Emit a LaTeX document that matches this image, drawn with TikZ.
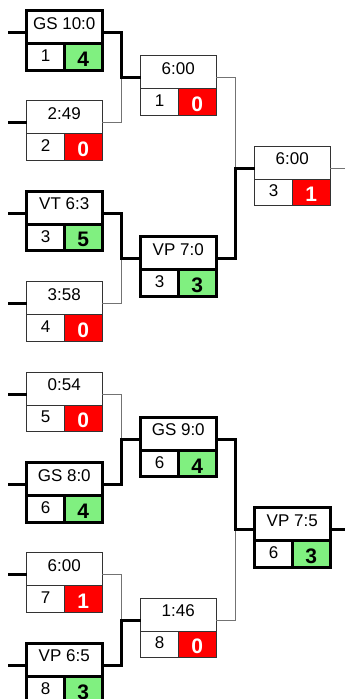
\documentclass[tikz,border=0pt]{standalone}
\usepackage{fontspec}
\setmainfont{Liberation Sans}
\usetikzlibrary{calc}
\definecolor{wgreen}{RGB}{128,240,128}
\definecolor{lred}{RGB}{255,0,0}
\tikzset{
  cell/.style={rectangle, inner sep=0pt, outer sep=0pt, anchor=north west, fill=white},
  wbox/.style={draw=black, line width=3pt},
  lbox/.style={draw=black!80, line width=1pt},
  wsc/.style={fill=wgreen, text=black},
  lsc/.style={fill=lred, text=white},
  lbl/.style={inner sep=0pt, font=\fontsize{17}{17}\selectfont},
  seedtxt/.style={inner sep=0pt, font=\fontsize{17}{17}\selectfont},
  scoretxt/.style={inner sep=0pt, font=\bfseries\fontsize{21}{21}\selectfont},
  wline/.style={draw=black, line width=3pt},
  lline/.style={draw=black!55, line width=1pt},
}
% #1 name, #2 left, #3 top, #4 label, #5 seed, #6 score, #7 w or l
\newcommand\gamebox[7]{%
  \node[cell,#7box,minimum width=75.5pt,minimum height=33pt] (#1t) at (#2,#3) {};
  \node[cell,#7box,minimum width=37.75pt,minimum height=26.5pt] (#1a) at (#1t.south west) {};
  \node[cell,#7box,#7sc,minimum width=37.75pt,minimum height=26.5pt] (#1b) at (#1a.north east) {};
  \node[lbl] (#1l) at ($(#1t.north)+(0,12.7)$) {#4};
  \node[seedtxt] (#1n) at ($(#1t.north west)+(19,45)$) {#5};
  \node[scoretxt,#7sc,fill=none] (#1s) at ($(#1t.north west)+(56.6,48.5)$) {#6};
  \coordinate (#1in) at ($(#1t.north west)+(0,22)$);
  \coordinate (#1out) at ($(#1t.north east)+(0,22)$);
}
\begin{document}
\begin{tikzpicture}[x=1pt,y=-1pt]
\useasboundingbox (0,0) rectangle (345,699);
\clip (0,0) rectangle (345,699);
\fill[white] (0,0) rectangle (345,699);
% round 1
\gamebox{r1}{26.5}{10.5}{GS 10:0}{1}{4}{w}
\gamebox{r2}{26.5}{100.9}{2:49}{2}{0}{l}
\gamebox{r3}{26.5}{191.3}{VT 6:3}{3}{5}{w}
\gamebox{r4}{26.5}{281.7}{3:58}{4}{0}{l}
\gamebox{r5}{26.5}{372.1}{0:54}{5}{0}{l}
\gamebox{r6}{26.5}{462.5}{GS 8:0}{6}{4}{w}
\gamebox{r7}{26.5}{552.9}{6:00}{7}{1}{l}
\gamebox{r8}{26.5}{643.3}{VP 6:5}{8}{3}{w}
% round 2
\gamebox{s1}{140.5}{55.7}{6:00}{1}{0}{l}
\gamebox{s2}{140.5}{236.5}{VP 7:0}{3}{3}{w}
\gamebox{s3}{140.5}{417.3}{GS 9:0}{6}{4}{w}
\gamebox{s4}{140.5}{598.1}{1:46}{8}{0}{l}
% round 3
\gamebox{f1}{254.5}{146.1}{6:00}{3}{1}{l}
\gamebox{f2}{254.5}{507.7}{VP 7:5}{6}{3}{w}
% columns
\coordinate (xs) at (8,0);
\coordinate (c1) at (121,0);
\coordinate (c2) at (235,0);
\coordinate (xe) at (346,0);
% left stubs
\foreach \m in {r1,r2,r3,r4,r5,r6,r7,r8}{
  \draw[wline] (\m in -| xs) -- (\m in);
}
% losers (thin)
\draw[lline] (r2out) -| (c1 |- s1in);
\draw[lline] (r4out) -| (c1 |- s2in);
\draw[lline] (r5out) -| (c1 |- s3in);
\draw[lline] (r7out) -| (c1 |- s4in);
\draw[lline] (s1out) -| (c2 |- f1in);
\draw[lline] (s4out) -| (c2 |- f2in);
\draw[lline] (f1out) -- (f1out -| xe);
% winners (thick)
\draw[wline] (r1out) -| (c1 |- s1in) -- (s1in);
\draw[wline] (r3out) -| (c1 |- s2in) -- (s2in);
\draw[wline] (r6out) -| (c1 |- s3in) -- (s3in);
\draw[wline] (r8out) -| (c1 |- s4in) -- (s4in);
\draw[wline] (s2out) -| (c2 |- f1in) -- (f1in);
\draw[wline] (s3out) -| (c2 |- f2in) -- (f2in);
\draw[wline] (f2out) -- (f2out -| xe);
\end{tikzpicture}
\end{document}
